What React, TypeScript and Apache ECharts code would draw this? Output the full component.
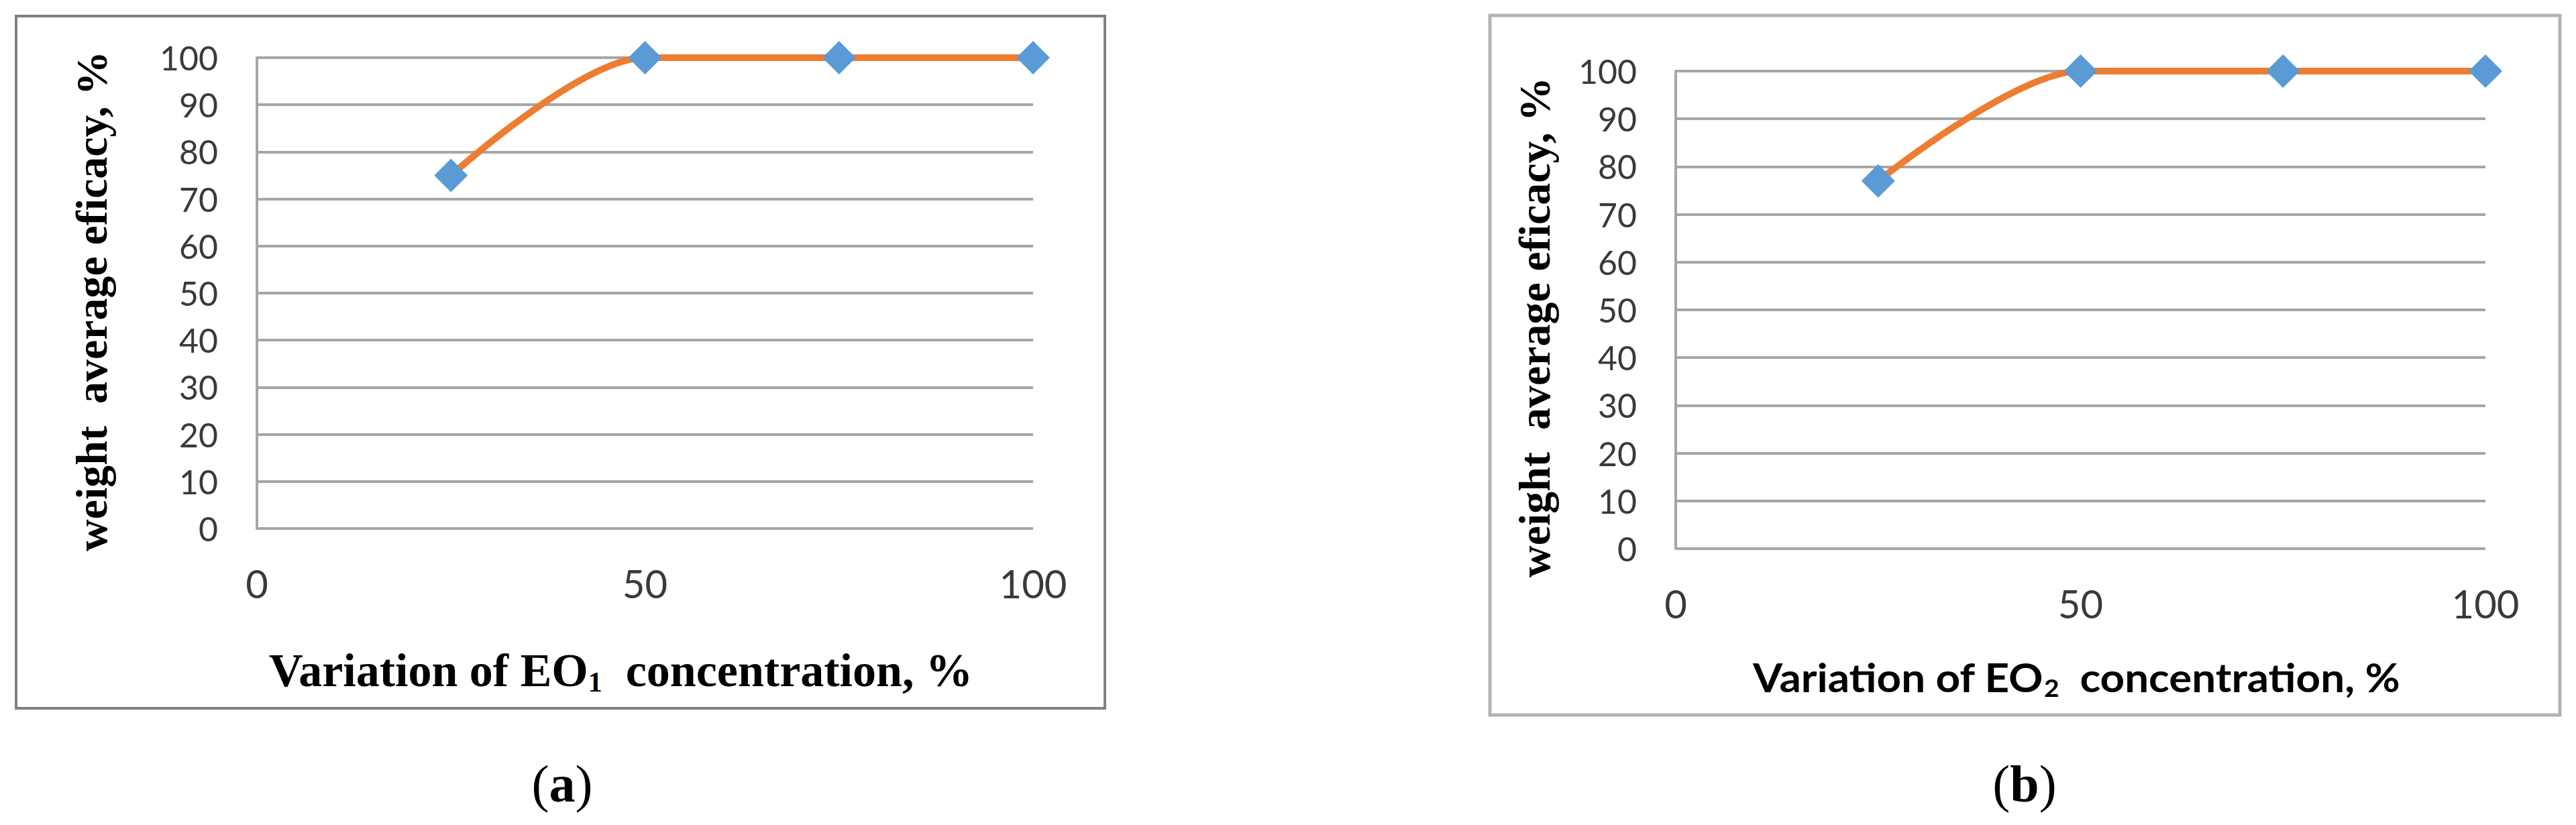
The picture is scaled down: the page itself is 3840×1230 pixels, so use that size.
import React, { useEffect, useRef } from "react";
import * as echarts from "echarts";

// ---- data ----
const concentrations = [25, 50, 75, 100];
const efficacyEO1 = [75, 100, 100, 100];
const efficacyEO2 = [77, 100, 100, 100];
const xTickStep = 50; // ticks 0, 50, 100
const yTickStep = 10; // ticks 0 ... 100
const axisMin = 0;
const axisMax = 100;

const yTitle = "weight  average eficacy, %";
const xTitleA = "Variation of EO{sub|1}  concentration, %";
const xTitleB = "Variation of EO{sub|2}  concentration, %";
const panelA = "({b|a})";
const panelB = "({b|b})";

const GRID = "#a6a6a6";
const LABEL = "#3a3a3a";
const ORANGE = "#ED7D31";
const BLUE = "#5B9BD5";

function buildOption(): echarts.EChartsOption {
  const pairs = (vals: number[]) => concentrations.map((x, i) => [x, vals[i]]);
  const xAxis = (gi: number) => ({
    type: "value" as const,
    gridIndex: gi,
    min: axisMin,
    max: axisMax,
    interval: xTickStep,
    axisLine: { show: false },
    axisTick: { show: false },
    splitLine: { show: false },
    axisLabel: { margin: 52, fontFamily: "Lato", fontSize: 58, color: LABEL },
  });
  const yAxis = (gi: number) => ({
    type: "value" as const,
    gridIndex: gi,
    min: axisMin,
    max: axisMax,
    interval: yTickStep,
    axisLine: { show: true, lineStyle: { color: GRID, width: 4 } },
    axisTick: { show: false },
    splitLine: { show: true, lineStyle: { color: GRID, width: 4 } },
    axisLabel: { margin: 58, fontFamily: "Lato", fontSize: 50, color: LABEL },
  });
  const series = (gi: number, vals: number[]) => ({
    type: "line" as const,
    xAxisIndex: gi,
    yAxisIndex: gi,
    data: pairs(vals),
    smooth: 0.3,
    clip: false,
    symbol: "diamond",
    symbolSize: 50,
    showSymbol: true,
    lineStyle: { color: ORANGE, width: 10 },
    itemStyle: { color: BLUE },
    z: 3,
  });
  const serifTitle = {
    fontFamily: "Liberation Serif",
    fontWeight: "bold" as const,
    fill: "#000",
  };
  return {
    animation: false,
    backgroundColor: "#ffffff",
    grid: [
      { left: 383, top: 86, width: 1157, height: 702 },
      { left: 2498, top: 106, width: 1207, height: 712 },
    ],
    xAxis: [xAxis(0), xAxis(1)],
    yAxis: [yAxis(0), yAxis(1)],
    series: [series(0, efficacyEO1), series(1, efficacyEO2)],
    graphic: [
      {
        type: "rect",
        shape: { x: 24, y: 24, width: 1623, height: 1032 },
        style: { fill: "none", stroke: "#808080", lineWidth: 4 },
        z: -1,
      },
      {
        type: "rect",
        shape: { x: 2221, y: 23, width: 1595, height: 1043 },
        style: { fill: "none", stroke: "#b3b3b3", lineWidth: 5 },
        z: -1,
      },
      {
        type: "text",
        x: 136,
        y: 449,
        rotation: Math.PI / 2,
        style: { ...serifTitle, text: yTitle, fontSize: 66, align: "center", verticalAlign: "middle" },
      },
      {
        type: "text",
        x: 2287,
        y: 488,
        rotation: Math.PI / 2,
        style: { ...serifTitle, text: yTitle, fontSize: 66, align: "center", verticalAlign: "middle" },
      },
      {
        type: "text",
        x: 401,
        y: 999,
        style: {
          ...serifTitle,
          text: xTitleA,
          fontSize: 70,
          lineHeight: 80,
          align: "left",
          verticalAlign: "middle",
          rich: {
            sub: {
              fontFamily: "Liberation Serif",
              fontWeight: "bold",
              fontSize: 42,
              lineHeight: 80,
              padding: [36, 0, 0, 0],
              fill: "#000",
            },
          },
        } as any,
      },
      {
        type: "text",
        x: 2613,
        y: 1009,
        scaleX: 1.08,
        style: {
          text: xTitleB,
          fontFamily: "Lato",
          fontWeight: "bold",
          fontSize: 59,
          lineHeight: 70,
          fill: "#000",
          align: "left",
          verticalAlign: "middle",
          rich: {
            sub: {
              fontFamily: "Lato",
              fontWeight: "bold",
              fontSize: 36,
              lineHeight: 70,
              padding: [32, 0, 0, 0],
              fill: "#000",
            },
          },
        } as any,
      },
      {
        type: "text",
        x: 838,
        y: 1168,
        style: {
          text: panelA,
          fontFamily: "Liberation Serif",
          fontSize: 78,
          fill: "#000",
          align: "center",
          verticalAlign: "middle",
          rich: { b: { fontFamily: "Liberation Serif", fontWeight: "bold", fontSize: 78, fill: "#000" } },
        } as any,
      },
      {
        type: "text",
        x: 3018,
        y: 1168,
        style: {
          text: panelB,
          fontFamily: "Liberation Serif",
          fontSize: 78,
          fill: "#000",
          align: "center",
          verticalAlign: "middle",
          rich: { b: { fontFamily: "Liberation Serif", fontWeight: "bold", fontSize: 78, fill: "#000" } },
        } as any,
      },
    ],
  } as echarts.EChartsOption;
}

export default function App() {
  const ref = useRef<HTMLDivElement>(null);
  useEffect(() => {
    document.body.style.margin = "0";
    if (!ref.current) return;
    const chart = echarts.init(ref.current, undefined, { renderer: "svg" });
    chart.setOption(buildOption());
    return () => chart.dispose();
  }, []);
  return <div ref={ref} style={{ width: 3840, height: 1230, background: "#fff" }} />;
}
